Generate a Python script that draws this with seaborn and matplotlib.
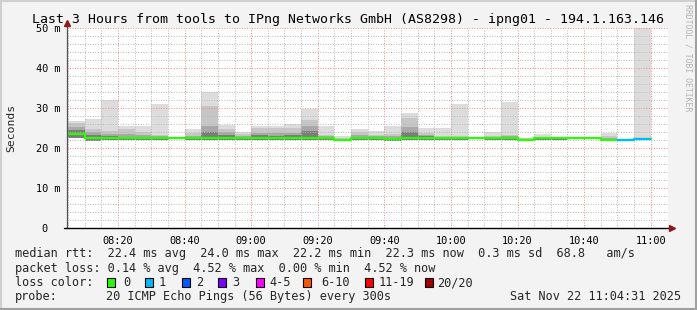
import matplotlib
matplotlib.use("Agg")
import matplotlib.pyplot as plt
from matplotlib.patches import Rectangle
from matplotlib.ticker import FixedLocator, FixedFormatter
import numpy as np
import pandas as pd
import seaborn as sns

# ---------------- data ----------------
bar_start = ["08:05", "08:10", "08:15", "08:20", "08:25", "08:30", "08:35", "08:40", "08:45", "08:50",
             "08:55", "09:00", "09:05", "09:10", "09:15", "09:20", "09:25", "09:30", "09:35", "09:40",
             "09:45", "09:50", "09:55", "10:00", "10:05", "10:10", "10:15", "10:20", "10:25", "10:30",
             "10:35", "10:40", "10:45", "10:50", "10:55"]
median_ms = [23.5, 22.4, 22.4, 22.4, 22.4, 22.4, 22.4, 22.4, 22.4, 22.4,
             22.4, 22.4, 22.4, 22.4, 22.4, 22.4, 22.0, 22.4, 22.4, 22.2,
             22.4, 22.4, 22.4, 22.4, 22.4, 22.4, 22.4, 22.0, 22.4, 22.4,
             22.4, 22.4, 22.0, 22.0, 22.3]
loss_count = [0, 0, 0, 0, 0, 0, 0, 0, 0, 0,
              0, 0, 0, 0, 0, 0, 0, 0, 0, 0,
              0, 0, 0, 0, 0, 0, 0, 0, 0, 0,
              0, 0, 0, 1, 1]
smoke_max = [26.8, 27.3, 31.9, 25.6, 25.6, 31.1, 22.7, 24.8, 33.9, 25.7,
             24.1, 25.6, 25.6, 25.9, 29.8, 25.6, 23.1, 24.8, 24.3, 25.6,
             28.7, 25.1, 25.1, 31.0, 22.5, 24.0, 31.6, 22.6, 23.5, 22.8,
             22.4, 22.4, 23.8, 22.0, 55.0]
smoke_hi = [26.2, 24.7, 24.3, 24.7, 24.1, 23.3, 22.6, 23.8, 30.6, 24.8,
            23.5, 24.9, 24.9, 24.9, 27.0, 23.3, 22.6, 24.1, 23.3, 23.5,
            27.6, 23.8, 22.9, 22.9, 22.4, 23.0, 23.3, 22.4, 22.7, 22.5,
            22.4, 22.4, 22.9, 22.0, 22.5]
smoke_mid = [25.2, 24.0, 23.6, 23.5, 23.2, 22.9, 22.5, 23.1, 25.6, 23.9,
             23.0, 23.8, 23.8, 23.8, 25.6, 22.9, 22.3, 23.3, 22.9, 22.9,
             25.2, 23.3, 22.7, 22.7, 22.4, 22.7, 23.0, 22.2, 22.5, 22.4,
             22.4, 22.4, 22.5, 22.0, 22.4]
smoke_core = [24.5, 23.2, 23.0, 22.8, 22.7, 22.6, 22.5, 22.7, 24.1, 23.3,
              22.7, 23.2, 23.0, 23.3, 24.3, 22.6, 22.1, 22.7, 22.6, 22.6,
              24.1, 22.9, 22.5, 22.5, 22.4, 22.5, 22.7, 22.1, 22.4, 22.4,
              22.4, 22.4, 22.3, 22.0, 22.3]
smoke_min = [22.4, 21.8, 22.0, 22.1, 22.1, 22.1, 22.2, 22.0, 22.0, 21.9,
             22.1, 22.0, 22.0, 22.0, 21.9, 22.1, 21.7, 22.0, 22.1, 21.8,
             21.9, 22.0, 22.1, 22.1, 22.2, 22.1, 22.0, 21.8, 22.1, 22.1,
             22.2, 22.2, 21.8, 21.8, 22.0]

x_tick_labels = ["08:20", "08:40", "09:00", "09:20", "09:40", "10:00", "10:20", "10:40", "11:00"]
y_tick_values = [0, 10, 20, 30, 40, 50]
y_tick_labels = ["0  ", "10 m", "20 m", "30 m", "40 m", "50 m"]

loss_legend = ["0", "1", "2", "3", "4-5", "6-10", "11-19", "20/20"]
loss_colors = ["#26ff00", "#00b8ff", "#0059ff", "#7e00ff", "#ff00ff", "#ff5500", "#ff0000", "#a10000"]

title = "Last 3 Hours from tools to IPng Networks GmbH (AS8298) - ipng01 - 194.1.163.146"
line_rtt = "median rtt:  22.4 ms avg  24.0 ms max  22.2 ms min  22.3 ms now  0.3 ms sd  68.8   am/s"
line_loss = "packet loss: 0.14 % avg  4.52 % max  0.00 % min  4.52 % now"
probe_text = "20 ICMP Echo Pings (56 Bytes) every 300s"
date_text = "Sat Nov 22 11:04:31 2025"

# ---------------- helpers ----------------
def to_min(s):
    h, m = s.split(":")
    return int(h) * 60 + int(m) - 480

starts = np.array([to_min(s) for s in bar_start], dtype=float)
W, H = 697, 310

sns.set_style("white")
plt.rcParams["font.family"] = ["DejaVu Sans Mono"]

fig = plt.figure(figsize=(W / 100, H / 100), dpi=100, facecolor="#f3f3f3")
ax = fig.add_axes([67 / W, (H - 228) / H, 601 / W, 200 / H])
ax.set_facecolor("white")

# smoke
layers = [(smoke_max, "#dcdcdc"), (smoke_hi, "#c6c6c6"), (smoke_mid, "#a8a8a8"), (smoke_core, "#7c7c7c")]
for vals, col in layers:
    top = np.array(vals)
    bot = np.array(smoke_min)
    ax.bar(starts, top - bot, bottom=bot, width=5, align="edge", color=col, linewidth=0, zorder=1)

# median line
df = pd.DataFrame({"t": list(starts) + [starts[-1] + 5], "median": median_ms + [median_ms[-1]]})
sns.lineplot(data=df, x="t", y="median", drawstyle="steps-post", color=loss_colors[0], lw=1.6, ax=ax, zorder=4)
for s, m, l in zip(starts, median_ms, loss_count):
    if l > 0:
        ax.hlines(m, s, s + 5, colors=loss_colors[min(l, 7)], lw=1.6, zorder=5)

ax.set_xlim(4.68, 185.2)
ax.set_ylim(0, 50)
ax.set_xlabel("")
ax.set_ylabel("")

# grid
ax.xaxis.set_major_locator(FixedLocator([to_min(s) for s in x_tick_labels]))
ax.xaxis.set_major_formatter(FixedFormatter(x_tick_labels))
ax.xaxis.set_minor_locator(FixedLocator(np.arange(5, 185, 5)))
ax.yaxis.set_major_locator(FixedLocator(y_tick_values))
ax.yaxis.set_major_formatter(FixedFormatter(y_tick_labels))
ax.yaxis.set_minor_locator(FixedLocator(np.arange(0, 51, 2)))
ax.set_axisbelow(False)
ax.grid(which="minor", color="#b8b8b8", linestyle=(0, (1, 1.6)), lw=0.7, zorder=2)
ax.grid(which="major", color="#f08a8a", linestyle=(0, (1, 1.6)), lw=0.7, zorder=3)

ax.tick_params(axis="both", which="major", direction="out", length=3, width=0.7, color="#404040",
               labelsize=7.4, pad=2, labelcolor="black")
ax.tick_params(axis="both", which="minor", direction="out", length=2, width=0.7, color="#404040")
ax.tick_params(axis="x", which="major", pad=3)

for sp in ax.spines.values():
    sp.set_visible(False)
# axis lines with arrows
ax.plot([0, 0], [0, 1.025], transform=ax.transAxes, clip_on=False, color="#505050", lw=0.9, zorder=6)
ax.plot([0], [1.025], marker="^", ms=5, color="#8b1a1a", transform=ax.transAxes, clip_on=False, zorder=7)
ax.plot([-0.005, 1.002], [0, 0], transform=ax.transAxes, clip_on=False, color="black", lw=1.0, zorder=6)
ax.plot([1.006], [0], marker=">", ms=5, color="#8b1a1a", transform=ax.transAxes, clip_on=False, zorder=7)

# texts
def fx(x):
    return x / W

def fy(y):
    return 1 - y / H

fig.text(fx(348), fy(19), title, ha="center", va="center", fontsize=9.5, color="black")
fig.text(fx(11), fy(128), "Seconds", rotation=90, ha="center", va="center", fontsize=8.2)
fig.text(fx(688), fy(4), "RRDTOOL / TOBI OETIKER", rotation=270, ha="center", va="top",
         fontsize=5.9, color="#b4b4b4")

fs = 8.55
fig.text(fx(15), fy(254), line_rtt, ha="left", va="center", fontsize=fs)
fig.text(fx(15), fy(268.5), line_loss, ha="left", va="center", fontsize=fs)
fig.text(fx(15), fy(282.5), "loss color:", ha="left", va="center", fontsize=fs)
fig.text(fx(15), fy(296.5), "probe:", ha="left", va="center", fontsize=fs)
fig.text(fx(106), fy(296.5), probe_text, ha="left", va="center", fontsize=fs)
fig.text(fx(681), fy(296.5), date_text, ha="right", va="center", fontsize=fs)

box_x = [107, 145, 182, 218, 256, 303, 365, 425]
lab_x = [123, 159, 196, 232, 269, 321, 379, 437]
for bx, lx, lab, col in zip(box_x, lab_x, loss_legend, loss_colors):
    fig.add_artist(Rectangle((fx(bx), fy(286.5)), 8 / W, 9 / H, transform=fig.transFigure,
                             facecolor=col, edgecolor="black", lw=0.8))
    fig.text(fx(lx), fy(282.5), lab, ha="left", va="center", fontsize=fs)

# frame
fig.add_artist(plt.Line2D([0, 1], [1 - 1 / H, 1 - 1 / H], transform=fig.transFigure, color="#d0d0d0", lw=1.5))
fig.add_artist(plt.Line2D([1 / W, 1 / W], [0, 1], transform=fig.transFigure, color="#d0d0d0", lw=1.5))
fig.add_artist(plt.Line2D([0, 1], [1 / H, 1 / H], transform=fig.transFigure, color="#a0a0a0", lw=1.5))
fig.add_artist(plt.Line2D([1 - 1 / W, 1 - 1 / W], [0, 1], transform=fig.transFigure, color="#a0a0a0", lw=1.5))

fig.savefig("out.png", dpi=100, facecolor=fig.get_facecolor())
